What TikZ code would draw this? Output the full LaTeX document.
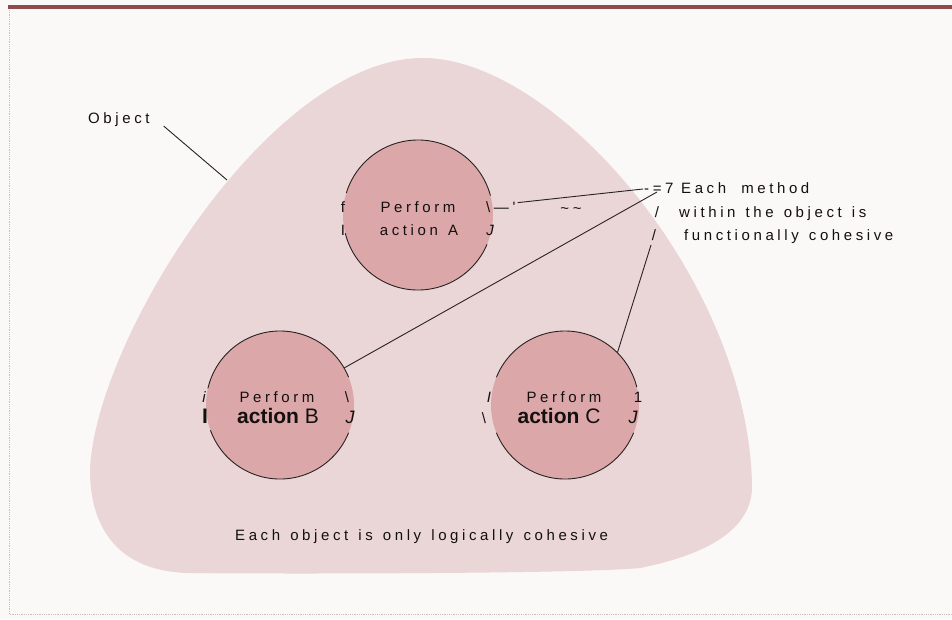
\documentclass[tikz,border=0pt]{standalone}
\usepackage{fontspec}
\setmainfont{Liberation Sans}
\newfontfamily\spcfont{Liberation Sans}[LetterSpace=24,WordSpace=1.3]
\newcommand\txtA{\spcfont\fontsize{15}{18}\selectfont}
\newcommand\txtBig{\fontsize{21}{24}\selectfont}
\definecolor{cBg}{RGB}{251,248,248}
\definecolor{cBlob}{RGB}{234,214,214}
\definecolor{cDisc}{RGB}{220,167,169}
\definecolor{cInk}{RGB}{40,34,34}
\definecolor{cText}{RGB}{20,16,16}
\definecolor{cBand}{RGB}{143,75,75}
\definecolor{cFrame}{RGB}{200,190,190}
\begin{document}
\begin{tikzpicture}[x=1pt,y=1pt,
  txt/.style={inner sep=0pt, font=\txtA, anchor=base west, text=cText},
  ctxt/.style={inner sep=0pt, font=\txtA, anchor=base, text=cText},
  ring/.style={draw=cInk, line width=0.9pt},
  lead/.style={draw=cInk, line width=0.9pt},
  disc/.style={circle, fill=cDisc, minimum size=148pt, inner sep=0pt}]
\useasboundingbox (0,0) rectangle (952,-619);
\fill[cBg] (0,0) rectangle (952,-619);
% frame
\fill[cBand] (8,-5) rectangle (952,-9);
\draw[cFrame, line width=0.8pt, densely dotted] (9,-10) -- (9,-614) -- (952,-614);
% object blob
\fill[cBlob] (423,-58) .. controls (555,-58) and (748,-280) .. (752,-485)
  .. controls (753,-530) and (705,-555) .. (640,-568)
  .. controls (580,-574) and (260,-574) .. (190,-573)
  .. controls (120,-572) and (90,-530) .. (90,-470)
  .. controls (95,-340) and (270,-58) .. (423,-58) -- cycle;
% methods
\node[disc, minimum size=150pt] (A) at (418,-215) {};
\node[disc] (B) at (280,-405) {};
\node[disc] (C) at (565,-405) {};
\draw[ring] (A.center) ++(15:75) arc[start angle=15,end angle=163,radius=75];
\draw[ring] (A.center) ++(194:75) arc[start angle=194,end angle=337,radius=75];
\draw[ring] (B.center) ++(22:74) arc[start angle=22,end angle=167,radius=74];
\draw[ring] (B.center) ++(200:74) arc[start angle=200,end angle=338,radius=74];
\draw[ring] (C.center) ++(14:74) arc[start angle=14,end angle=158,radius=74];
\draw[ring] (C.center) ++(202:74) arc[start angle=202,end angle=338,radius=74];
% texts in circles
\node[ctxt] (Ap) at (418,-212) {Perform};
\node[ctxt] (Aa) at (419,-235) {action A};
\node[ctxt] (Af) at (343,-212) {f};
\node[ctxt] (Ai) at (343,-235) {I};
\node[txt] (Aart) at (486,-212) {\textbackslash—'};
\node[ctxt, font=\txtA\itshape] (Aj) at (490,-235) {J};
\node[ctxt] (Atl) at (571,-213) {\textasciitilde\textasciitilde};
\node[ctxt] (Bp) at (277,-402) {Perform};
\node[ctxt, font=\txtBig] (Ba) at (278,-423) {\textbf{action} B};
\node[ctxt, font=\txtA\itshape] (Bi) at (204,-402) {i};
\node[ctxt, font=\txtBig\bfseries] (Bl) at (205,-423) {I};
\node[ctxt] (Bs) at (347,-402) {\textbackslash};
\node[ctxt, font=\fontsize{18}{20}\selectfont\itshape] (Bj) at (350,-423) {J};
\node[ctxt] (Cp) at (564,-402) {Perform};
\node[ctxt, font=\txtBig] (Ca) at (559,-423) {\textbf{action} C};
\node[ctxt, font=\txtA\itshape] (Ci) at (489,-402) {I};
\node[ctxt] (Cs) at (484,-423) {\textbackslash};
\node[ctxt] (Cn) at (638,-402) {1};
\node[ctxt, font=\fontsize{18}{20}\selectfont\itshape] (Cj) at (633,-423) {J};
% labels
\node[txt] (obj) at (88,-123) {Object};
\node[txt] (eq) at (644,-193) {-=7};
\node[txt] (m1) at (681,-193) {Each\hspace{5pt} method};
\node[ctxt] (sl1) at (657,-217) {/};
\node[txt] (m2) at (679,-217) {within the object is};
\node[ctxt] (sl2) at (654,-240) {/};
\node[txt] (m3) at (684,-240) {functionally cohesive};
\node[txt] (bot) at (235,-540) {Each object is only logically cohesive};
% leaders
\coordinate (objtip) at (227,-180);
\coordinate (jA) at (643,-189);
\coordinate (jB) at (657,-192);
\coordinate (jC) at (651,-245);
\draw[lead] ([shift={(14pt,-7pt)}]obj.east) -- (objtip);
\draw[lead] ([shift={(2pt,4pt)}]Aart.east) -- (jA);
\draw[lead] (B.30) -- (jB);
\draw[lead] (C.45) -- (jC);
\end{tikzpicture}
\end{document}
